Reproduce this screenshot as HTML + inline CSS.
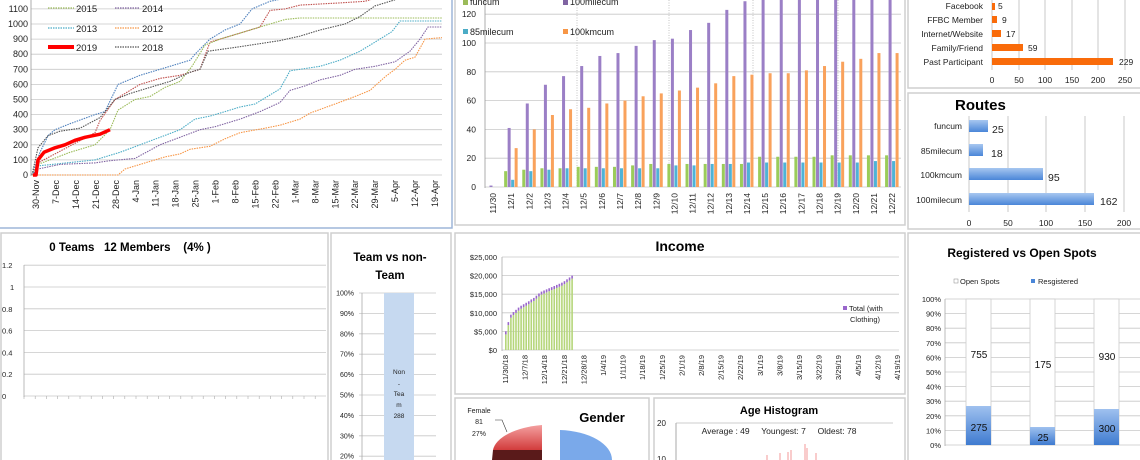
<!DOCTYPE html>
<html><head><meta charset="utf-8">
<style>
html,body{margin:0;padding:0;background:#fff;width:1140px;height:460px;overflow:hidden}
svg{display:block;font-family:"Liberation Sans",sans-serif}
</style></head><body>
<svg id="s" width="1140" height="460" viewBox="0 0 1140 460" xmlns="http://www.w3.org/2000/svg">
<rect width="1140" height="460" fill="#fff"/>
<!-- panels -->
<g fill="none" stroke="#cfcfcf" stroke-width="1.5">
<rect x="-2" y="-2" width="454" height="230" stroke="#9db6d8"/>
<rect x="455" y="-2" width="450" height="227"/>
<rect x="908" y="-2" width="233" height="90"/>
<rect x="908" y="93" width="233" height="136"/>
<rect x="1" y="233" width="327" height="230"/>
<rect x="331" y="233" width="120" height="230"/>
<rect x="455" y="233" width="450" height="161"/>
<rect x="455" y="398" width="194" height="65"/>
<rect x="654" y="398" width="251" height="65"/>
<rect x="908" y="233" width="233" height="230"/>
</g>

<!-- Chart A -->
<g id="A" font-size="9" fill="#222"></g>
<g font-size="9.5" fill="#222">
<line x1="48" y1="8" x2="74" y2="8" stroke="#9bbb59" stroke-width="1.2" stroke-dasharray="1.5 1"/><text x="76" y="12">2015</text>
<line x1="115" y1="8" x2="140" y2="8" stroke="#8064a2" stroke-width="1.2" stroke-dasharray="1.5 1"/><text x="142" y="12">2014</text>
<line x1="48" y1="28" x2="74" y2="28" stroke="#4bacc6" stroke-width="1.2" stroke-dasharray="1.5 1"/><text x="76" y="32">2013</text>
<line x1="115" y1="28" x2="140" y2="28" stroke="#f79646" stroke-width="1.2" stroke-dasharray="1.5 1"/><text x="142" y="32">2012</text>
<line x1="48" y1="47" x2="74" y2="47" stroke="#f00" stroke-width="4"/><text x="76" y="51">2019</text>
<line x1="115" y1="47" x2="140" y2="47" stroke="#555" stroke-width="1.2" stroke-dasharray="1.5 1"/><text x="142" y="51">2018</text>
</g>

<!-- Chart B -->
<g id="B" font-size="8.5" fill="#222"></g>
<g font-size="9" fill="#222">
<rect x="463" y="0" width="5" height="5" fill="#9bbb59"/><text x="470" y="5">funcum</text>
<rect x="563" y="0" width="5" height="5" fill="#8064a2"/><text x="570" y="5">100milecum</text>
<rect x="463" y="29" width="5" height="5" fill="#4bacc6"/><text x="470" y="35">85milecum</text>
<rect x="563" y="29" width="5" height="5" fill="#f79646"/><text x="570" y="35">100kmcum</text>
</g>

<!-- Chart C Source -->
<g font-size="8.5" fill="#222">
<g stroke="#bbb" stroke-width="0.8">
<line x1="992" y1="0" x2="992" y2="70"/><line x1="1019" y1="0" x2="1019" y2="70"/><line x1="1045" y1="0" x2="1045" y2="70"/><line x1="1072" y1="0" x2="1072" y2="70"/><line x1="1098" y1="0" x2="1098" y2="70"/><line x1="1125" y1="0" x2="1125" y2="70"/>
</g>
<g fill="#f96b0a">
<rect x="992" y="3" width="3" height="7"/><rect x="992" y="16" width="5" height="7"/><rect x="992" y="30" width="9" height="7"/><rect x="992" y="44" width="31" height="7"/><rect x="992" y="58" width="121" height="7"/>
</g>
<g text-anchor="end"><text x="983" y="9">Facebook</text><text x="983" y="23">FFBC Member</text><text x="983" y="37">Internet/Website</text><text x="983" y="51">Family/Friend</text><text x="983" y="65">Past Participant</text></g>
<text x="998" y="9">5</text><text x="1002" y="23">9</text><text x="1006" y="37">17</text><text x="1028" y="51">59</text><text x="1119" y="65">229</text>
<g text-anchor="middle"><text x="992" y="83">0</text><text x="1019" y="83">50</text><text x="1045" y="83">100</text><text x="1072" y="83">150</text><text x="1098" y="83">200</text><text x="1125" y="83">250</text></g>
</g>

<!-- Routes -->
<defs>
<linearGradient id="bl" x1="0" y1="0" x2="0" y2="1"><stop offset="0" stop-color="#a7c7f0"/><stop offset="1" stop-color="#4a86d8"/></linearGradient>
<linearGradient id="bl2" x1="0" y1="0" x2="0" y2="1"><stop offset="0" stop-color="#9fc1ef"/><stop offset="1" stop-color="#3f7bd0"/></linearGradient>
<linearGradient id="rd" x1="0" y1="0" x2="0" y2="1"><stop offset="0" stop-color="#f4a0a0"/><stop offset="1" stop-color="#d23c3c"/></linearGradient>
</defs>
<text x="955" y="110" font-size="15" font-weight="bold" fill="#000">Routes</text>
<g stroke="#bbb" stroke-width="0.8">
<line x1="969" y1="116" x2="969" y2="212"/><line x1="1008" y1="116" x2="1008" y2="212"/><line x1="1046" y1="116" x2="1046" y2="212"/><line x1="1085" y1="116" x2="1085" y2="212"/><line x1="1124" y1="116" x2="1124" y2="212"/>
</g>
<g fill="url(#bl)">
<rect x="969" y="120" width="19" height="12"/><rect x="969" y="144" width="14" height="12"/><rect x="969" y="168" width="74" height="12"/><rect x="969" y="193" width="125" height="12"/>
</g>
<g font-size="8.5" fill="#222" text-anchor="end"><text x="962" y="129">funcum</text><text x="962" y="154">85milecum</text><text x="962" y="178">100kmcum</text><text x="962" y="203">100milecum</text></g>
<g font-size="10.5" fill="#222"><text x="992" y="133">25</text><text x="991" y="157">18</text><text x="1048" y="181">95</text><text x="1100" y="205">162</text></g>
<g font-size="8.5" fill="#222" text-anchor="middle"><text x="969" y="226">0</text><text x="1008" y="226">50</text><text x="1046" y="226">100</text><text x="1085" y="226">150</text><text x="1124" y="226">200</text></g>

<!-- Chart E Teams -->
<text x="130" y="251" font-size="11.5" font-weight="bold" text-anchor="middle" fill="#000">0 Teams&#160;&#160; 12 Members&#160;&#160;&#160; (4% )</text>
<g id="E" font-size="7.5" fill="#222"></g>

<!-- Chart F -->
<g font-weight="bold" font-size="11.5" text-anchor="middle" fill="#000"><text x="390" y="261">Team vs non-</text><text x="390" y="279">Team</text></g>
<g id="F" font-size="7" fill="#222"></g>
<rect x="384" y="293" width="30" height="170" fill="#c6d9f0"/>
<g font-size="6.5" fill="#222" text-anchor="middle"><text x="399" y="374">Non</text><text x="399" y="386">-</text><text x="399" y="396">Tea</text><text x="399" y="407">m</text><text x="399" y="418">288</text></g>

<!-- Income -->
<text x="680" y="251" font-size="14" font-weight="bold" text-anchor="middle" fill="#000">Income</text>
<g id="I" font-size="7.5" fill="#222"></g>
<rect x="843" y="306" width="4" height="4" fill="#9966cc"/>
<g font-size="7.5" fill="#222"><text x="849" y="311">Total (with</text><text x="850" y="322">Clothing)</text></g>

<!-- Gender -->
<text x="602" y="422" font-size="13" font-weight="bold" text-anchor="middle" fill="#000">Gender</text>
<g font-size="7" fill="#222" text-anchor="middle"><text x="479" y="413">Female</text><text x="479" y="424">81</text><text x="479" y="436">27%</text></g>
<polyline points="495,420 502,420 507,432" fill="none" stroke="#333" stroke-width="0.6"/>
<path d="M542,425 L542,450 L493,450 A60,28 0 0 1 542,425 Z" fill="url(#rd)"/>
<path d="M493,450 L542,450 L542,460 L492,460 Z" fill="#5a1a1a"/>
<path d="M560,430 A55,30 0 0 1 612,460 L560,460 Z" fill="#7aa9ea"/>

<!-- Age -->
<text x="779" y="414" font-size="11" font-weight="bold" text-anchor="middle" fill="#000">Age Histogram</text>
<line x1="676" y1="423" x2="893" y2="423" stroke="#ccc"/>
<line x1="676" y1="423" x2="676" y2="460" stroke="#aaa"/>
<g font-size="8" fill="#222"><text x="657" y="426">20</text><text x="657" y="462">10</text></g>
<text x="779" y="434" font-size="8.5" fill="#222" text-anchor="middle">Average : 49&#160;&#160;&#160;&#160; Youngest: 7&#160;&#160;&#160;&#160; Oldest: 78</text>
<g stroke="#f08080" stroke-width="0.8">
<line x1="767" y1="460" x2="767" y2="455"/><line x1="780" y1="460" x2="780" y2="453"/><line x1="788" y1="460" x2="788" y2="452"/><line x1="791" y1="460" x2="791" y2="450"/><line x1="805" y1="460" x2="805" y2="444"/><line x1="807" y1="460" x2="807" y2="448"/><line x1="816" y1="460" x2="816" y2="453"/>
</g>

<!-- Registered -->
<text x="1022" y="257" font-size="12" font-weight="bold" text-anchor="middle" fill="#000">Registered vs Open Spots</text>
<rect x="954" y="279" width="4" height="4" fill="#fff" stroke="#888" stroke-width="0.5"/>
<text x="960" y="284" font-size="7.5" fill="#222">Open Spots</text>
<rect x="1031" y="279" width="4" height="4" fill="#4a86d8"/>
<text x="1038" y="284" font-size="7.5" fill="#222">Resgistered</text>
<g id="R" font-size="7.5" fill="#222"></g>
<g stroke="#ccc" stroke-width="0.8" fill="#fff">
<rect x="966" y="299" width="25" height="146"/><rect x="1030" y="299" width="25" height="146"/><rect x="1094" y="299" width="25" height="146"/>
</g>
<g fill="url(#bl2)">
<rect x="966" y="406" width="25" height="39"/><rect x="1030" y="427" width="25" height="18"/><rect x="1094" y="409" width="25" height="36"/>
</g>
<g font-size="10" fill="#111" text-anchor="middle">
<text x="979" y="358">755</text><text x="1043" y="368">175</text><text x="1107" y="360">930</text>
<text x="979" y="431">275</text><text x="1043" y="441">25</text><text x="1107" y="432">300</text>
</g>
</svg>
<script>
var NS="http://www.w3.org/2000/svg";
function el(p,t,a,txt){var e=document.createElementNS(NS,t);for(var k in a)e.setAttribute(k,a[k]);if(txt!==undefined)e.textContent=txt;document.getElementById(p).appendChild(e);return e;}
// Chart A
(function(){
var y=function(v){return 175-v*0.151};
for(var v=0;v<=1100;v+=100){el("A","line",{x1:31,y1:y(v),x2:442,y2:y(v),stroke:"#c8c8c8","stroke-width":0.8});el("A","text",{x:28,y:y(v)+3,"text-anchor":"end"},v);}
el("A","line",{x1:31,y1:0,x2:31,y2:176,stroke:"#999","stroke-width":0.8});
var labs=["30-Nov","7-Dec","14-Dec","21-Dec","28-Dec","4-Jan","11-Jan","18-Jan","25-Jan","1-Feb","8-Feb","15-Feb","22-Feb","1-Mar","8-Mar","15-Mar","22-Mar","29-Mar","5-Apr","12-Apr","19-Apr"];
for(var i=0;i<labs.length;i++){var x=36+i*19.95;el("A","text",{x:x+3,y:180,"text-anchor":"end",transform:"rotate(-90 "+(x+3)+" 180)"},labs[i]);}
var S=[
["#4f81bd",[[32,0],[40,150],[48,260],[55,300],[70,340],[95,400],[105,420],[118,600],[140,660],[170,720],[190,760],[195,800],[210,900],[225,960],[240,1000],[252,1100],[270,1150],[285,1170]]],
["#c0504d",[[32,0],[38,80],[95,280],[100,360],[115,500],[140,600],[160,640],[180,660],[200,700],[210,880],[240,940],[260,980],[270,1090],[285,1100],[300,1125],[340,1140],[365,1150],[375,1170]]],
["#9bbb59",[[32,0],[38,70],[50,100],[70,150],[95,200],[110,300],[118,430],[135,500],[150,520],[165,580],[180,620],[192,720],[205,860],[220,900],[240,940],[265,990],[285,1030],[300,1040],[442,1040]]],
["#555555",[[32,0],[38,180],[48,260],[60,290],[80,310],[100,380],[115,500],[130,540],[150,580],[170,620],[190,680],[200,700],[208,820],[240,850],[280,890],[300,920],[320,960],[345,1000],[360,1050],[375,1120],[395,1160]]],
["#4bacc6",[[32,0],[38,60],[95,100],[120,150],[140,200],[160,250],[180,300],[195,370],[210,390],[225,420],[240,450],[255,470],[265,510],[280,570],[290,690],[300,700],[320,720],[340,760],[360,820],[375,880],[392,950],[400,1020],[442,1020]]],
["#8064a2",[[32,0],[38,40],[60,70],[95,80],[110,95],[135,110],[160,200],[180,250],[200,300],[215,320],[240,370],[260,420],[280,480],[290,560],[305,590],[320,630],[340,660],[355,700],[375,720],[395,750],[410,820],[420,900],[428,980],[442,980]]],
["#f79646",[[32,0],[118,0],[125,40],[150,90],[165,120],[180,140],[190,170],[210,190],[225,240],[240,280],[265,310],[280,330],[300,370],[310,410],[335,470],[355,520],[370,560],[385,650],[395,700],[405,760],[415,780],[425,900],[442,910]]]
];
S.forEach(function(s){el("A","polyline",{points:s[1].map(function(p){return p[0]+","+y(p[1]).toFixed(1)}).join(" "),fill:"none",stroke:s[0],"stroke-width":1.1,"stroke-dasharray":"1.5 1"});});
var r=[[33,0],[36,0],[38,100],[44,150],[55,180],[65,200],[75,230],[85,250],[100,270],[110,300]];
el("A","polyline",{points:r.map(function(p){return p[0]+","+y(p[1]).toFixed(1)}).join(" "),fill:"none",stroke:"#f00","stroke-width":3.5,"stroke-linejoin":"round"});
})();
// Chart B
(function(){
var y=function(v){return 187-v*1.44};
for(var v=0;v<=120;v+=20){el("B","line",{x1:485,y1:y(v),x2:901,y2:y(v),stroke:"#c8c8c8","stroke-width":0.8});el("B","text",{x:476,y:y(v)+3,"text-anchor":"end"},v);}
el("B","line",{x1:485,y1:0,x2:485,y2:188,stroke:"#999","stroke-width":0.8});
[577,669,753,838].forEach(function(x){el("B","line",{x1:x,y1:0,x2:x,y2:187,stroke:"#aaa","stroke-width":0.7,"stroke-dasharray":"1 1.5"});});
var P=[1,41,58,71,77,84,91,93,98,102,103,109,114,123,129,132,135,138,140,145,150,155,160];
var O=[0,27,40,50,54,55,58,60,63,65,67,69,72,77,78,79,79,81,84,87,89,93,93];
var G=[0,11,12,13,13,14,14,14,15,16,16,16,16,16,16,21,21,21,21,22,22,22,22];
var C=[0,5,11,12,13,13,13,13,13,13,15,15,16,16,17,17,17,17,17,17,17,18,18];
var L=["11/30","12/1","12/2","12/3","12/4","12/5","12/6","12/7","12/8","12/9","12/10","12/11","12/12","12/13","12/14","12/15","12/16","12/17","12/18","12/19","12/20","12/21","12/22"];
for(var i=0;i<23;i++){var cx=493+i*18.14;
[[G,"#9bcc5a",-7],[P,"#9b7fc6",-3.5],[C,"#4fb3d6",0],[O,"#f9a25c",3.5]].forEach(function(b){var v=b[0][i];if(v>0)el("B","rect",{x:cx+b[2],y:Math.max(y(v),0),width:3,height:187-Math.max(y(v),0),fill:b[1]});});
el("B","text",{x:cx+3,y:193,"text-anchor":"end",transform:"rotate(-90 "+(cx+3)+" 193)"},L[i]);}
})();
// Chart E
(function(){
var y=function(v){return 396-v*109};
for(var k=0;k<=6;k++){var v=k*0.2;el("E","line",{x1:24,y1:y(v),x2:326,y2:y(v),stroke:"#c8c8c8","stroke-width":0.8});el("E","text",{x:k==5?10:2,y:y(v)+3},k==0?"0":(k==5?"1":v.toFixed(1)));}
el("E","line",{x1:24,y1:265,x2:24,y2:397,stroke:"#aaa","stroke-width":0.8});
for(var x=24;x<=326;x+=11.2)el("E","line",{x1:x,y1:396,x2:x,y2:399,stroke:"#aaa","stroke-width":0.6});
})();
// Chart F
(function(){
for(var k=10;k>=2;k--){var yy=293+(10-k)*20.4;el("F","line",{x1:359,y1:yy,x2:436,y2:yy,stroke:"#c8c8c8","stroke-width":0.8});el("F","text",{x:354,y:yy+2.5,"text-anchor":"end"},(k*10)+"%");}
el("F","line",{x1:362,y1:293,x2:362,y2:460,stroke:"#aaa","stroke-width":0.8});
})();
// Income
(function(){
var y=function(v){return 350-v*0.00372};
var labs=["$0","$5,000","$10,000","$15,000","$20,000","$25,000"];
for(var k=0;k<=5;k++){el("I","line",{x1:502,y1:y(k*5000),x2:899,y2:y(k*5000),stroke:"#c8c8c8","stroke-width":0.8});el("I","text",{x:497,y:y(k*5000)+3,"text-anchor":"end"},labs[k]);}
el("I","line",{x1:502,y1:257,x2:502,y2:351,stroke:"#aaa","stroke-width":0.8});
var vals=[5000,7500,9500,10200,10800,11400,11900,12300,12700,13100,13600,14000,14600,15200,15700,16000,16300,16600,16900,17200,17500,17800,18100,18500,19000,19500,20000];
for(var i=0;i<vals.length;i++){var x=505+i*2.55;var t=y(vals[i]);el("I","rect",{x:x,y:t+3,width:1.6,height:350-t-3,fill:"#b5d67a"});el("I","rect",{x:x,y:t,width:1.6,height:3,fill:"#9966cc"});}
var L=["11/30/18","12/7/18","12/14/18","12/21/18","12/28/18","1/4/19","1/11/19","1/18/19","1/25/19","2/1/19","2/8/19","2/15/19","2/22/19","3/1/19","3/8/19","3/15/19","3/22/19","3/29/19","4/5/19","4/12/19","4/19/19"];
for(var i=0;i<L.length;i++){var x=505+i*19.6+3;el("I","text",{x:x,y:355,"text-anchor":"end",transform:"rotate(-90 "+x+" 355)"},L[i]);}
})();
// Registered axis
(function(){
for(var k=0;k<=10;k++){var yy=445-k*14.6;el("R","line",{x1:945,y1:yy,x2:1140,y2:yy,stroke:"#c8c8c8","stroke-width":0.8});el("R","text",{x:941,y:yy+3,"text-anchor":"end"},(k*10)+"%");}
el("R","line",{x1:945,y1:299,x2:945,y2:446,stroke:"#aaa","stroke-width":0.8});
})();
</script>
</body></html>
